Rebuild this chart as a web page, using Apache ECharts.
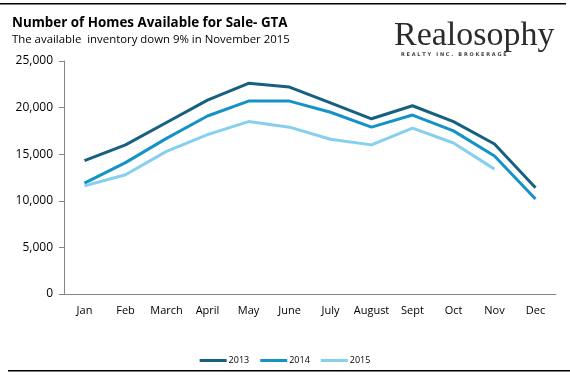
<!DOCTYPE html>
<html>
<head>
<meta charset="utf-8">
<script src="https://cdn.jsdelivr.net/npm/echarts@6/dist/echarts.min.js"></script>
<style>
  html, body { margin: 0; padding: 0; background: #fff; }
  #main { width: 570px; height: 375px; }
</style>
</head>
<body>
<div id="main"></div>
<script>
var months = ['Jan', 'Feb', 'March', 'April', 'May', 'June', 'July', 'August', 'Sept', 'Oct', 'Nov', 'Dec'];
var homes2013 = [14300, 16000, 18400, 20800, 22600, 22200, 20500, 18800, 20200, 18500, 16100, 11400];
var homes2014 = [11900, 14100, 16700, 19100, 20700, 20700, 19500, 17900, 19200, 17500, 14800, 10200];
var homes2015 = [11600, 12800, 15300, 17100, 18500, 17900, 16600, 16000, 17800, 16200, 13400, null];
var yTicks = [0, 5000, 10000, 15000, 20000, 25000];

var chart = echarts.init(document.getElementById('main'));

function lineSeries(name, data, color) {
  return {
    name: name,
    type: 'line',
    data: data,
    symbol: 'none',
    lineStyle: { width: 3, color: color },
    itemStyle: { color: color },
    animation: false
  };
}

var option = {
  backgroundColor: '#fff',
  textStyle: { fontFamily: 'Open Sans' },
  title: [{
    text: 'Number of Homes Available for Sale- GTA',
    left: 7,
    top: 12,
    textStyle: { fontFamily: 'Open Sans', fontSize: 13.4, fontWeight: 'bold', color: '#000' }
  }, {
    text: 'The available  inventory down 9% in November 2015',
    left: 7,
    top: 29,
    textStyle: { fontFamily: 'Open Sans', fontSize: 11.4, fontWeight: 'normal', color: '#000' }
  }],
  legend: {
    bottom: 5,
    left: 'center',
    itemWidth: 27,
    itemHeight: 3,
    itemGap: 11,
    icon: 'rect',
    textStyle: { fontSize: 9, color: '#000', padding: [0, 0, 0, -3] },
    data: ['2013', '2014', '2015']
  },
  grid: { left: 64, right: 14, top: 61, bottom: 81 },
  xAxis: {
    type: 'category',
    data: months,
    boundaryGap: true,
    axisLine: { lineStyle: { color: '#868686', width: 1 } },
    axisTick: { show: false },
    axisLabel: { color: '#000', fontSize: 11, margin: 11, interval: 0 }
  },
  yAxis: {
    type: 'value',
    min: 0,
    max: yTicks[yTicks.length - 1],
    interval: 5000,
    axisLine: { show: true, lineStyle: { color: '#868686', width: 1 } },
    axisTick: { show: true, length: 5, lineStyle: { color: '#868686' } },
    splitLine: { show: false },
    axisLabel: {
      color: '#000',
      fontSize: 12,
      margin: 11,
      formatter: function (v) { return v.toLocaleString('en-US'); }
    }
  },
  graphic: [
    { type: 'rect', shape: { x: 0, y: 3, width: 566, height: 1.5 }, style: { fill: '#000' } },
    { type: 'rect', shape: { x: 8, y: 370, width: 562, height: 1.5 }, style: { fill: '#000' } },
    {
      type: 'text', left: 394, top: 19,
      style: { text: 'Realosophy', font: '34px "Liberation Serif"', fill: '#2b2b2b' }
    },
    {
      type: 'text', left: 401, top: 52,
      style: { text: 'R E A L T Y   I N C .   B R O K E R A G E', font: 'bold 5px "DejaVu Sans"', fill: '#444' }
    }
  ],
  series: [
    lineSeries('2013', homes2013, '#17607f'),
    lineSeries('2014', homes2014, '#1593c6'),
    lineSeries('2015', homes2015, '#86cfee')
  ]
};

chart.setOption(option);
</script>
</body>
</html>
